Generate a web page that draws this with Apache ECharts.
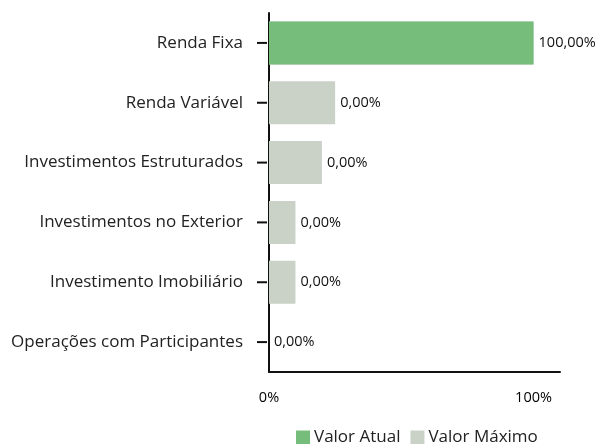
<!DOCTYPE html>
<html>
<head>
<meta charset="utf-8">
<script src="https://cdn.jsdelivr.net/npm/echarts@6/dist/echarts.min.js"></script>
<style>
  html, body { margin: 0; padding: 0; background: #fff; }
  #chart { width: 600px; height: 444px; }
</style>
</head>
<body>
<div id="chart"></div>
<script>
  // categorias (de cima para baixo)
  var categorias = ['Renda Fixa', 'Renda Variável', 'Investimentos Estruturados',
    'Investimentos no Exterior', 'Investimento Imobiliário', 'Operações com Participantes'];
  var valorAtual = [100, 0, 0, 0, 0, 0];
  var valorMaximo = [100, 25, 20, 10, 10, 0];
  var xTicks = [0, 100];

  var fonte = '"Open Sans", "Noto Sans", sans-serif';
  var chart = echarts.init(document.getElementById('chart'));

  var option = {
    animation: false,
    grid: { left: 269, right: 40, top: 13, bottom: 72 },
    legend: {
      top: 424,
      left: 291,
      itemWidth: 14,
      itemHeight: 14,
      itemGap: 10,
      icon: 'rect',
      textStyle: { fontFamily: fonte, fontSize: 17, color: '#222', padding: [0, 0, 0, -1] },
      data: ['Valor Atual', 'Valor Máximo']
    },
    xAxis: {
      type: 'value',
      min: 0,
      max: 110,
      interval: 100,
      axisLine: { show: true, lineStyle: { color: '#111', width: 2 } },
      axisTick: { show: false },
      splitLine: { show: false },
      axisLabel: {
        margin: 18,
        fontFamily: fonte,
        fontSize: 14.5,
        color: '#000',
        formatter: function (v) { return xTicks.indexOf(v) >= 0 ? v + '%' : ''; }
      }
    },
    yAxis: {
      type: 'category',
      inverse: true,
      data: categorias,
      axisLine: { show: true, lineStyle: { color: '#111', width: 2 } },
      axisTick: { show: false },
      axisLabel: {
        margin: 2,
        formatter: function (v) { return '{n|' + v + '}{t|}'; },
        rich: {
          n: { fontFamily: fonte, fontSize: 17, color: '#222', padding: [0, 14, 0, 0] },
          t: { width: 10, height: 2, backgroundColor: '#111' }
        }
      }
    },
    series: [
      {
        name: 'Valor Máximo',
        type: 'bar',
        data: valorMaximo,
        barWidth: 43,
        barGap: '-100%',
        itemStyle: { color: '#cad2c8' },
        label: {
          show: true,
          position: 'right',
          distance: 5,
          fontFamily: fonte,
          fontSize: 14.5,
          color: '#111',
          formatter: function (p) {
            return valorAtual[p.dataIndex].toFixed(2).replace('.', ',') + '%';
          }
        }
      },
      {
        name: 'Valor Atual',
        type: 'bar',
        data: valorAtual,
        barWidth: 43,
        barGap: '-100%',
        itemStyle: { color: '#76bd7b' },
        z: 3
      }
    ]
  };
  chart.setOption(option);
</script>
</body>
</html>
